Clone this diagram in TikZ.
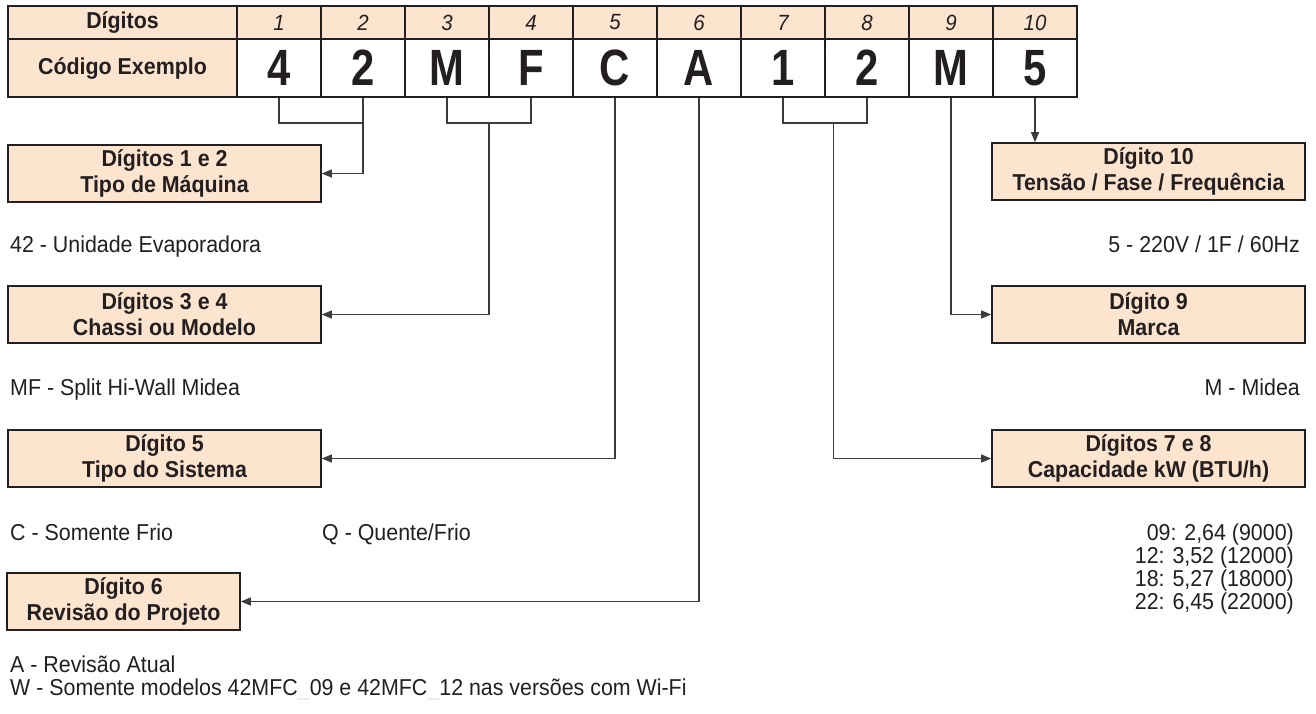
\documentclass[tikz,border=0pt]{standalone}
\usepackage{fontspec}
\setmainfont{Liberation Sans}[FakeStretch=0.93]
\newfontfamily\codefont{Liberation Sans}[FakeStretch=0.82]
\usetikzlibrary{arrows.meta,calc}
\definecolor{peach}{RGB}{252,228,207}
\definecolor{ink}{RGB}{35,31,32}
\definecolor{wire}{RGB}{60,60,60}
\tikzset{
  cell/.style={draw=ink,line width=1.6pt,inner sep=0pt,text=ink},
  headcell/.style={cell,fill=peach,minimum width=84pt,minimum height=33pt,
    font=\fontsize{22}{24}\selectfont\itshape},
  codecell/.style={cell,fill=white,minimum width=84pt,minimum height=58pt,
    font=\codefont\fontsize{51}{52}\selectfont\bfseries},
  infobox/.style={draw=ink,fill=peach,line width=1.6pt,text=ink,align=center,
    minimum width=313pt,minimum height=57pt,inner sep=0pt,
    font=\fontsize{23}{26}\selectfont\bfseries},
  note/.style={text=ink,inner sep=0pt,font=\fontsize{23}{26}\selectfont},
  link/.style={draw=wire,line width=1.1pt},
  arr/.style={link,-{Triangle[length=10pt,width=8pt]}}
}
\begin{document}
\begin{tikzpicture}[x=1pt,y=-1pt]
  \useasboundingbox (0,0) rectangle (1316,713);
  % table
  \node[cell,fill=peach,minimum width=229pt,minimum height=33pt,
    font=\fontsize{23}{24}\selectfont\bfseries] (hd) at (122.5,22.5) {Dígitos};
  \node[cell,fill=peach,minimum width=229pt,minimum height=58pt,
    font=\fontsize{23}{24}\selectfont\bfseries] (cx) at (122.5,68) {Código Exemplo};
  \foreach \i/\c in {1/4,2/2,3/M,4/F,5/C,6/A,7/1,8/2,9/M,10/5} {
    \node[headcell] (d\i) at (237+84*\i-42,22.5) {\i};
    \node[codecell] (c\i) at (237+84*\i-42,68) {\c};
  }
  \coordinate (brk) at (0,123);

  % boxes
  \node[infobox] (b12) at (164.5,173.5) {Dígitos 1 e 2\\Tipo de Máquina};
  \node[infobox] (b34) at (164.5,314.5) {Dígitos 3 e 4\\Chassi ou Modelo};
  \node[infobox] (b5) at (164.5,458.5) {Dígito 5\\Tipo do Sistema};
  \node[infobox,minimum width=233pt] (b6) at (123.5,601.5) {Dígito 6\\Revisão do Projeto};
  \node[infobox] (b10) at (1148.5,171.5) {Dígito 10\\Tensão / Fase / Frequência};
  \node[infobox] (b9) at (1148.5,314.5) {Dígito 9\\Marca};
  \node[infobox] (b78) at (1148.5,458.5) {Dígitos 7 e 8\\Capacidade kW (BTU/h)};

  % texts
  \node[note,anchor=base west] (t12) at (10,252) {42 - Unidade Evaporadora};
  \node[note,anchor=base west] (t34) at (10,395) {MF - Split Hi-Wall Midea};
  \node[note,anchor=base west] (t5a) at (10,540) {C - Somente Frio};
  \node[note,anchor=base west] (t5b) at (322,540) {Q - Quente/Frio};
  \node[note,anchor=base west] (t6a) at (10,672) {A - Revisão Atual};
  \node[note,anchor=base west] (t6b) at (10,695)
    {W - Somente modelos 42MFC{\color{black!10}\_}09 e 42MFC{\color{black!10}\_}12 nas versões com Wi-Fi};
  \node[note,anchor=base east] (t10) at (1300,252) {5 - 220V / 1F / 60Hz};
  \node[note,anchor=base east] (t9) at (1300,395) {M - Midea};
  \foreach \k/\txt in {0/{09: 2,64 (9000)},1/{12: 3,52 (12000)},2/{18: 5,27 (18000)},3/{22: 6,45 (22000)}}
    \node[note,anchor=base east] (cap\k) at (1294,540+23*\k) {\txt};

  % connectors
  \draw[link] (c1.south) |- (c2.south |- brk) -- (c2.south);
  \draw[arr] (c2.south) |- (b12.east);
  \draw[link] (c3.south) |- (c4.south |- brk) -- (c4.south);
  \coordinate (m34) at ($(c3.south |- brk)!0.5!(c4.south |- brk)$);
  \draw[arr] (m34) |- (b34.east);
  \draw[arr] (c5.south) |- (b5.east);
  \draw[arr] (c6.south) |- (b6.east);
  \draw[link] (c7.south) |- (c8.south |- brk) -- (c8.south);
  \coordinate (m78) at ($(c7.south |- brk)!0.6!(c8.south |- brk)$);
  \draw[arr] (m78) |- (b78.west);
  \draw[arr] (c9.south) |- (b9.west);
  \draw[arr] (c10.south) -- (c10.south |- b10.north);
\end{tikzpicture}
\end{document}
